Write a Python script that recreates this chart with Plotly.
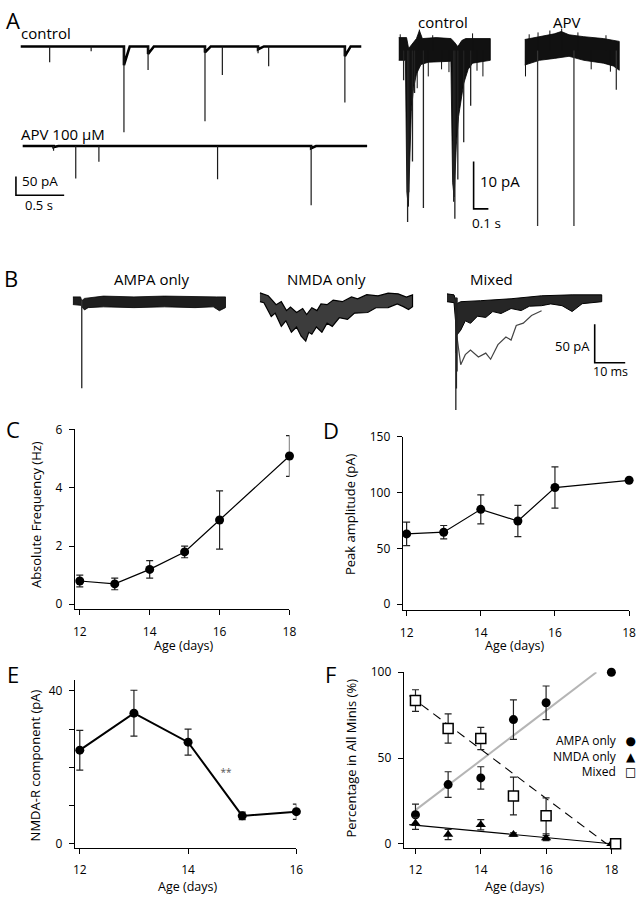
import plotly.graph_objects as go

W, H = 643, 899
FONT = "Open Sans"

# ======================= DATA =======================
# ---- Panel A (left): long sweeps; minis as (time s, peak pA below baseline) ----
A_ctrl_duration = 3.53
A_ctrl_times = [0.30, 0.73, 1.07, 1.32, 1.91, 2.09, 2.46, 2.57, 3.36]
A_ctrl_peaks = [42, 13, 229, 63, 200, 76, 18, 53, 150]
A_ctrl_tails = [0, 0, 50, 20, 16, 0, 8, 0, 26]
A_apv_duration = 3.57
A_apv_times = [0.32, 0.55, 0.79, 2.02, 2.99]
A_apv_peaks = [13, 87, 42, 89, 158]
A_apv_tails = [3, 0, 0, 0, 6]

# ---- Panel A (right): expanded sweeps; noise envelope + events (s, pA) ----
Ar_ctrl_up_t = [0, 0.053, 0.067, 0.093, 0.12, 0.14, 0.16, 0.253, 0.353, 0.373, 0.40, 0.427, 0.453, 0.62]
Ar_ctrl_up_pA = [2.7, 2.7, 0.4, 1.5, 2.5, 4.2, 2.5, 2.7, 2.5, 1.9, 0.8, 2.1, 2.5, 2.5]
Ar_ctrl_lo_t = [0, 0.045, 0.055, 0.065, 0.075, 0.085, 0.10, 0.12, 0.15, 0.2, 0.353, 0.365,
                0.375, 0.39, 0.405, 0.42, 0.44, 0.47, 0.5, 0.62]
Ar_ctrl_lo_pA = [-2.1, -2.1, -30, -33, -22, -13, -8, -5, -3, -2.5, -2.3, -28,
                 -31, -20, -14, -11, -7, -4, -2.7, -2.1]
Ar_ctrl_evt_t = [0.033, 0.06, 0.068, 0.093, 0.107, 0.167, 0.372, 0.38, 0.40, 0.44, 0.487]
Ar_ctrl_evt_pA = [-6.3, -36.3, -30, -23.5, -9, -33.3, -32, -35.6, -27.3, -19.4, -11.7]
Ar_ctrl_noise_t = [0.01, 0.125, 0.14, 0.2, 0.23, 0.29, 0.34, 0.5, 0.53, 0.57]
Ar_ctrl_noise_pA = [3.4, -8, 4.4, -5.5, 3.2, -4.0, -4.6, 3.6, -4.3, -5.5]

Ar_apv_up_t = [0, 0.1, 0.2, 0.247, 0.3, 0.4, 0.533, 0.64]
Ar_apv_up_pA = [2.3, 2.9, 3.5, 4.0, 3.3, 2.9, 2.5, 1.9]
Ar_apv_lo_t = [0, 0.1, 0.2, 0.3, 0.4, 0.533, 0.6, 0.64]
Ar_apv_lo_pA = [-3.1, -2.1, -1.7, -1.25, -2.1, -2.7, -3.3, -4.2]
Ar_apv_evt_t = [0.087, 0.333, 0.62]
Ar_apv_evt_pA = [-37.1, -37.1, -8.3]
Ar_apv_noise_t = [0.005, 0.03, 0.09, 0.17, 0.25, 0.36, 0.45, 0.55, 0.58]
Ar_apv_noise_pA = [-5.5, 3.4, 3.8, 4.2, 4.6, 3.8, -4.0, 3.2, -4.5]

# ---- Panel B: overlaid minis (ms, pA) ----
B_ampa_up_t = [0, 2.5, 2.9, 3.8, 10, 20, 30, 40, 47, 50]
B_ampa_up_pA = [5, 5, 0, 3, 6, 5, 6, 5, 5, 5]
B_ampa_lo_t = [0, 2.5, 3.8, 5, 10, 20, 30, 40, 46, 48, 50]
B_ampa_lo_pA = [-5, -6, -12, -9, -8, -9, -8, -9, -8, -13, -9]
B_ampa_evt_t = [2.9]
B_ampa_evt_pA = [-114]

B_nmda_up_t = [0, 2.7, 4, 5.3, 7, 8.7, 10, 12, 14, 15.3, 17, 18.7, 20, 22, 24, 27, 30, 32, 35,
               38.7, 42, 45.3, 48, 50]
B_nmda_up_pA = [6.4, 2.6, -3, -9, -5, -16.7, -12, -19.2, -14, -21.8, -13, -16.7, -8, -9, -3,
                -5.1, 1, -1.3, 4, 2.6, 6, 5.1, 1, 3.8]
B_nmda_lo_t = [0, 1.3, 3.7, 5, 7, 8.5, 10.3, 12, 13.5, 15, 16, 17, 18.5, 20.3, 22, 23.7, 26,
               28.7, 31, 35.3, 38, 42, 45, 47, 48.7, 50]
B_nmda_lo_pA = [-5.1, -6.4, -24.4, -20, -37.2, -30, -44.9, -38, -50, -56.4, -45, -47.4, -38,
                -44.9, -33, -37.2, -26, -28.2, -20, -19.2, -13, -12.8, -8, -11.5, -15.4, -11.5]

B_mix_up_t = [0, 2.3, 3.2, 4.5, 11, 21, 31, 41, 50.7]
B_mix_up_pA = [5.1, 3.8, -7.7, -5.1, -3.8, -1.3, 2.6, 3.8, 3.8]
B_mix_lo_t = [0, 2.3, 3.2, 4.5, 6, 7.7, 10, 12.7, 15, 17.7, 21, 24.3, 27, 31, 34, 37.7, 41, 44.3, 50.7]
B_mix_lo_pA = [-5.1, -6.4, -48.7, -42.3, -30, -33.3, -24, -25.6, -18, -20.5, -14, -16.7, -11,
               -10.3, -8, -10.3, -17.9, -7.7, -5.1]
B_mix_slow_t = [2.9, 3.2, 4.5, 6, 7.7, 10.3, 12.7, 14.3, 16.7, 19.3, 21, 22.7, 25, 27.7, 31]
B_mix_slow_pA = [0, -48.7, -87, -74, -68, -77, -72, -80, -61, -51, -55, -36, -33, -23, -17]
B_mix_evt_t = [2.9, 3.1, 3.3, 3.0]
B_mix_evt_pA = [-146, -118, -96, -72]

# ---- Panels C-F ----
age_C = [12, 13, 14, 15, 16, 18]
freq_C = [0.8, 0.7, 1.2, 1.8, 2.9, 5.1]
freq_err_C = [0.2, 0.2, 0.3, 0.2, 1.0, 0.7]

age_D = [12, 13, 14, 15, 16, 18]
amp_D = [63, 64.5, 85, 74.5, 104.5, 111]
amp_err_D = [10.5, 6, 13, 14, 18.5, 0]

age_E = [12, 13, 14, 15, 16]
nmda_E = [24.5, 34.2, 26.6, 7.3, 8.4]
nmda_err_E = [5.2, 6, 3.4, 1, 2]
sig_E = (14.7, 18.3)

age_F = [12, 13, 14, 15, 16, 18]
ampa_F = [16.9, 34.5, 38.4, 72.4, 82.2, 100]
ampa_err_F = [6.2, 7.5, 6.5, 11.5, 9.8, 0]
nmdaonly_F = [11.9, 5.4, 11.1, 5.4, 3.3, 0]
nmdaonly_err_F = [3.5, 3, 3, 1, 1.5, 0]
age_mixed_F = [12, 13, 14, 15, 16, 18.13]
mixed_F = [83.5, 67.2, 61.4, 27.8, 16.3, 0]
mixed_err_F = [6.3, 8.5, 6.5, 11, 10.5, 0]
fit_ampa_x, fit_ampa_y = [12, 17.54], [19.6, 100]
fit_mixed_x, fit_mixed_y = [11.81, 17.85], [86.4, 0]
fit_nmda_x, fit_nmda_y = [11.81, 18], [11.1, 0]

# ======================= HELPERS =======================
fig = go.Figure()
layout = dict(width=W, height=H, margin=dict(l=0, r=0, t=0, b=0),
              paper_bgcolor="white", plot_bgcolor="rgba(0,0,0,0)", showlegend=False,
              font=dict(family=FONT, color="black"))
count = [0]
annotations = []


def dom_x(a, b):
    return [a / W, b / W]


def dom_y(top, bot):
    return [1 - bot / H, 1 - top / H]


def anchor_range(anchors, lo, hi):
    pa, va, pb, vb = anchors
    k = (vb - va) / (pb - pa)
    return [va + (lo - pa) * k, va + (hi - pa) * k]


def new_axes(xdom, ydom, xr, yr, xkw=None, ykw=None):
    count[0] += 1
    s = "" if count[0] == 1 else str(count[0])
    xa = dict(domain=xdom, range=xr, anchor="y" + s, visible=False, fixedrange=True,
              showgrid=False, zeroline=False)
    ya = dict(domain=ydom, range=yr, anchor="x" + s, visible=False, fixedrange=True,
              showgrid=False, zeroline=False)
    if xkw:
        xa.update(xkw)
    if ykw:
        ya.update(ykw)
    layout["xaxis" + s] = xa
    layout["yaxis" + s] = ya
    return "x" + s, "y" + s


def trace_axes(box, origin, scale):
    x0, x1, top, bot = box
    ox, oy = origin
    sx, sy = scale
    return new_axes(dom_x(x0, x1), dom_y(top, bot),
                    [(x0 - ox) / sx, (x1 - ox) / sx], [(oy - bot) / sy, (oy - top) / sy])


def data_axes(box, xanch, yanch, xticks, yticks, yticktext=None):
    x0, x1, top, bot = box
    common = dict(visible=True, showline=True, linecolor="black", linewidth=1, ticks="outside",
                  ticklen=5, tickwidth=1, tickcolor="black",
                  tickfont=dict(family=FONT, size=12, color="black"))
    xkw = dict(common, tickvals=xticks, ticklabelstandoff=6)
    ykw = dict(common, tickvals=yticks, ticklabelstandoff=4)
    if yticktext:
        ykw["ticktext"] = yticktext
    return new_axes(dom_x(x0, x1), dom_y(top, bot), anchor_range(xanch, x0, x1),
                    anchor_range(yanch, bot, top), xkw, ykw)


def ann(text, px, py, size, xanchor="center", angle=0, color="black", family=FONT, align="center"):
    annotations.append(dict(text=text, x=px / W, y=1 - py / H, xref="paper", yref="paper",
                            xanchor=xanchor, yanchor="middle", showarrow=False, textangle=angle,
                            align=align, borderpad=0,
                            font=dict(family=family, size=size, color=color)))


def add_line(ax, x, y, color="black", width=1.0, dash=None, mode="lines"):
    fig.add_trace(go.Scatter(x=x, y=y, mode=mode, xaxis=ax[0], yaxis=ax[1], hoverinfo="skip",
                             line=dict(color=color, width=width, dash=dash)))


def add_band(ax, ut, up, lt, lo, fill, edge="black", width=0.8):
    fig.add_trace(go.Scatter(x=list(ut) + list(lt)[::-1], y=list(up) + list(lo)[::-1],
                             mode="lines", fill="toself", fillcolor=fill, xaxis=ax[0], yaxis=ax[1],
                             line=dict(color=edge, width=width), hoverinfo="skip"))


def add_ticks(ax, times, vals, color="black", width=1.0):
    xs, ys = [], []
    for t, v in zip(times, vals):
        xs += [t, t, None]
        ys += [0, v, None]
    add_line(ax, xs, ys, color, width)


def add_sweep(ax, duration, times, peaks, tails, tail_len):
    xs, ys = [0], [0]
    for t, d in zip(times, tails):
        if d > 0:
            xs += [t, t, t + tail_len]
            ys += [0, -d, 0]
    xs.append(duration)
    ys.append(0)
    add_line(ax, xs, ys, "black", 2.6)
    add_ticks(ax, times, [-p for p in peaks], "#1a1a1a", 1.2)


def scale_bar(ax, corner, dx, dy, width=1.6):
    cx, cy = corner
    add_line(ax, [cx, cx, cx + dx], [cy, cy - dy, cy - dy], "black", width)


def err_series(ax, x, y, err, symbol, size, mcolor="black", lcolor="black", lw=0):
    idx = [i for i, e in enumerate(err) if e > 0]
    fig.add_trace(go.Scatter(
        x=[x[i] for i in idx], y=[y[i] for i in idx], mode="markers", xaxis=ax[0], yaxis=ax[1],
        marker=dict(size=size, opacity=0), hoverinfo="skip", cliponaxis=False,
        error_y=dict(type="data", array=[err[i] for i in idx], color="#222", thickness=1.2, width=3.5)))
    fig.add_trace(go.Scatter(x=x, y=y, mode="markers", xaxis=ax[0], yaxis=ax[1], cliponaxis=False,
                             hoverinfo="skip",
                             marker=dict(symbol=symbol, size=size, color=mcolor,
                                         line=dict(color=lcolor, width=lw))))


# ======================= PANEL A =======================
axA1 = trace_axes((0, 385, 15, 135), (18, 38), (98, 0.38))
add_sweep(axA1, A_ctrl_duration, A_ctrl_times, A_ctrl_peaks, A_ctrl_tails, 0.06)
axA2 = trace_axes((0, 385, 128, 215), (20, 139), (98, 0.38))
add_sweep(axA2, A_apv_duration, A_apv_times, A_apv_peaks, A_apv_tails, 0.05)
scale_bar(axA2, (-0.07, -81.6), 0.5, 50)

axA3 = trace_axes((395, 512, 8, 226), (402, 42), (150, 4.8))
add_band(axA3, Ar_ctrl_up_t, Ar_ctrl_up_pA, Ar_ctrl_lo_t, Ar_ctrl_lo_pA, "#111111")
add_ticks(axA3, Ar_ctrl_evt_t, Ar_ctrl_evt_pA, "#222", 1.3)
add_ticks(axA3, Ar_ctrl_noise_t, Ar_ctrl_noise_pA, "#111", 1.0)
scale_bar(axA3, (0.507, -23.5), 0.1, 10)

axA4 = trace_axes((520, 640, 8, 226), (530, 42), (150, 4.8))
add_band(axA4, Ar_apv_up_t, Ar_apv_up_pA, Ar_apv_lo_t, Ar_apv_lo_pA, "#111111")
add_ticks(axA4, Ar_apv_evt_t, Ar_apv_evt_pA, "#333", 1.3)
add_ticks(axA4, Ar_apv_noise_t, Ar_apv_noise_pA, "#111", 1.0)

# ======================= PANEL B =======================
axB1 = trace_axes((60, 245, 283, 420), (71, 296), (3.1, 0.78))
add_band(axB1, B_ampa_up_t, B_ampa_up_pA, B_ampa_lo_t, B_ampa_lo_pA, "#1e1e1e")
add_ticks(axB1, B_ampa_evt_t, B_ampa_evt_pA, "#333", 1.4)

axB2 = trace_axes((250, 435, 283, 420), (261, 293), (3.1, 0.78))
add_band(axB2, B_nmda_up_t, B_nmda_up_pA, B_nmda_lo_t, B_nmda_lo_pA, "#3c3c3c", "black", 1.2)

axB3 = trace_axes((440, 643, 283, 420), (451, 293), (3.1, 0.78))
add_band(axB3, B_mix_up_t, B_mix_up_pA, B_mix_lo_t, B_mix_lo_pA, "#262626", "black", 1.0)
add_line(axB3, B_mix_slow_t, B_mix_slow_pA, "#444", 1.2)
add_ticks(axB3, B_mix_evt_t, B_mix_evt_pA, "#222", 1.3)
scale_bar(axB3, (48.4, -34.6), 10, 50)

# ======================= PANEL C =======================
axC = data_axes((73, 291, 426, 609), (78, 12, 291, 18), (604, 0, 427, 6),
                [12, 14, 16, 18], [0, 2, 4, 6])
add_line(axC, age_C, freq_C, "black", 1.2)
err_series(axC, age_C, freq_C, freq_err_C, "circle", 9)

# ======================= PANEL D =======================
axD = data_axes((406, 636, 434, 610), (410, 12, 636, 18), (604, 0, 434, 150),
                [12, 14, 16, 18], [0, 50, 100, 150])
add_line(axD, age_D, amp_D, "black", 1.2)
err_series(axD, age_D, amp_D, amp_err_D, "circle", 9)

# ======================= PANEL E =======================
axE = data_axes((73, 298, 681, 851), (78, 12, 298, 16), (847, 0, 692, 40),
                [12, 14, 16], [0, 10, 20, 30, 40], ["0", "", "", "", "40"])
add_line(axE, age_E, nmda_E, "black", 2.0)
err_series(axE, age_E, nmda_E, nmda_err_E, "circle", 9)
fig.add_trace(go.Scatter(x=[sig_E[0]], y=[sig_E[1]], mode="text", text=["**"], xaxis=axE[0],
                         yaxis=axE[1], textfont=dict(family=FONT, size=10, color="#555"),
                         hoverinfo="skip"))

# ======================= PANEL F =======================
axF = data_axes((407, 628, 673, 851), (419, 12, 618, 18), (847, 0, 673, 100),
                [12, 14, 16, 18], [0, 50, 100])
add_line(axF, fit_ampa_x, fit_ampa_y, "#b5b5b5", 2.0)
add_line(axF, fit_mixed_x, fit_mixed_y, "black", 1.1, dash="9px,6px")
add_line(axF, fit_nmda_x, fit_nmda_y, "black", 1.2)
err_series(axF, age_F, ampa_F, ampa_err_F, "circle", 9)
err_series(axF, age_F, nmdaonly_F, nmdaonly_err_F, "triangle-up", 9)
err_series(axF, age_mixed_F, mixed_F, mixed_err_F, "square", 10, "white", "black", 1.5)

# ======================= TEXT =======================
for letter, px, py in [("A", 10, 11), ("B", 8, 273), ("C", 10, 426), ("D", 333, 427),
                       ("E", 10, 675), ("F", 333, 675)]:
    ann(letter, px, py, 22)

ann("control", 17, 24, 15, "left")
ann("APV 100 μM", 17, 127, 15, "left")
ann("50 pA", 18, 175, 13.5, "left")
ann("0.5 s", 21, 199, 13, "left")
ann("control", 447, 13, 15)
ann("APV", 573, 13, 15)
ann("10 pA", 484, 175, 15, "left")
ann("0.1 s", 475, 217, 13.5, "left")

ann("AMPA only", 151, 274, 15)
ann("NMDA only", 329, 274, 15)
ann("Mixed", 496, 274, 15)
ann("50 pA", 597, 342, 13, "right")
ann("10 ms", 617, 368, 12.5)

ann("Absolute Frequency (Hz)", 33, 513, 13, angle=-90)
ann("Age (days)", 183, 646, 12.5)
ann("Peak amplitude (pA)", 352, 513, 13, angle=-90)
ann("Age (days)", 520, 646, 12.5)
ann("NMDA-R component (pA)", 32, 768, 13, angle=-90)
ann("Age (days)", 187, 890, 12.5)
ann("Percentage in All Minis (%)", 353, 760, 13, angle=-90)
ann("Age (days)", 520, 890, 12.5)

ann("AMPA only<br>NMDA only<br>Mixed", 625, 758, 12, "right", align="right")
ann("●<br>▲<br>□", 637, 758, 12, family="DejaVu Sans")

layout["annotations"] = annotations
fig.update_layout(**layout)
fig.write_html("out.html", config={"displayModeBar": False},
               post_script="document.body.style.margin='0';document.body.style.overflow='hidden';")
